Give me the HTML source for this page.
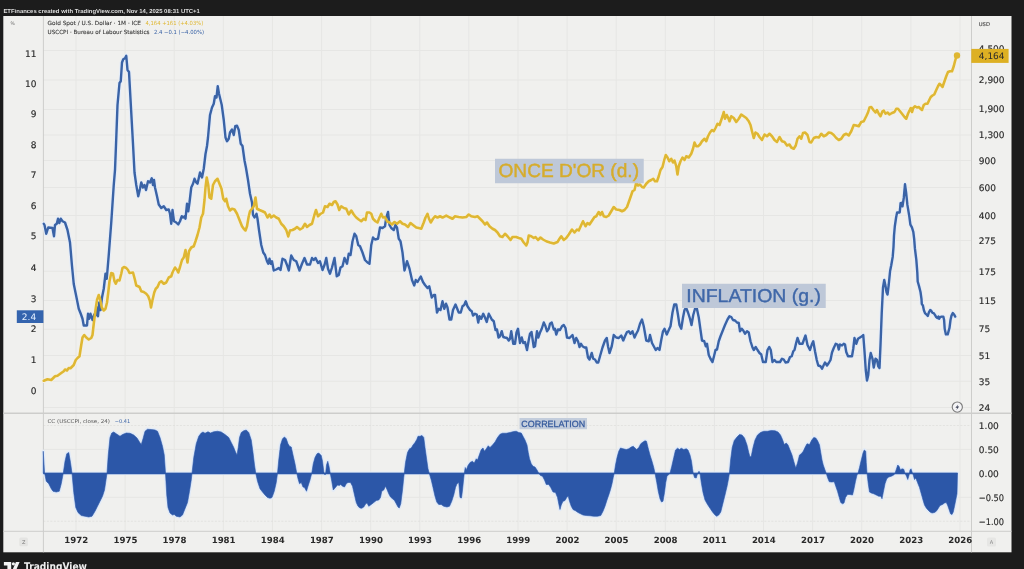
<!DOCTYPE html>
<html lang="fr"><head><meta charset="utf-8"><title>Or vs Inflation - TradingView</title>
<style>
html,body{margin:0;padding:0;background:#1c1c1c;width:1024px;height:569px;overflow:hidden}
svg{display:block;position:absolute;left:0;top:0}
text{font-family:"DejaVu Sans","Liberation Sans",sans-serif;opacity:.999;text-rendering:geometricPrecision}
.ax{font-size:9px;fill:#2a2a2a;stroke:#2a2a2a;stroke-width:.16px}
.yr{font-size:8.6px;font-weight:bold;fill:#2a2a2a}
.lib{font-family:"Liberation Sans",sans-serif}
</style></head><body>
<svg width="1024" height="569" viewBox="0 0 1024 569">
<rect x="0" y="0" width="1024" height="569" fill="#1c1c1c"/>
<defs><filter id="soft" filterUnits="userSpaceOnUse" x="0" y="0" width="1024" height="569" color-interpolation-filters="sRGB"><feGaussianBlur stdDeviation="0.5"/></filter></defs>
<g filter="url(#soft)">
<rect x="-5" y="-5" width="1034" height="579" fill="#1c1c1c"/>
<rect x="3.3" y="16" width="1008.2" height="536.3" fill="#f0f0ee"/>
<g stroke="#e6e6e4" stroke-width="1" fill="none">
<line x1="76.00" y1="16" x2="76.00" y2="531.3"/>
<line x1="125.11" y1="16" x2="125.11" y2="531.3"/>
<line x1="174.22" y1="16" x2="174.22" y2="531.3"/>
<line x1="223.33" y1="16" x2="223.33" y2="531.3"/>
<line x1="272.44" y1="16" x2="272.44" y2="531.3"/>
<line x1="321.55" y1="16" x2="321.55" y2="531.3"/>
<line x1="370.66" y1="16" x2="370.66" y2="531.3"/>
<line x1="419.77" y1="16" x2="419.77" y2="531.3"/>
<line x1="468.88" y1="16" x2="468.88" y2="531.3"/>
<line x1="517.99" y1="16" x2="517.99" y2="531.3"/>
<line x1="567.10" y1="16" x2="567.10" y2="531.3"/>
<line x1="616.21" y1="16" x2="616.21" y2="531.3"/>
<line x1="665.32" y1="16" x2="665.32" y2="531.3"/>
<line x1="714.43" y1="16" x2="714.43" y2="531.3"/>
<line x1="763.54" y1="16" x2="763.54" y2="531.3"/>
<line x1="812.65" y1="16" x2="812.65" y2="531.3"/>
<line x1="861.76" y1="16" x2="861.76" y2="531.3"/>
<line x1="910.87" y1="16" x2="910.87" y2="531.3"/>
<line x1="959.98" y1="16" x2="959.98" y2="531.3"/>
<line x1="43.4" y1="50.5" x2="971.5" y2="50.5"/>
<line x1="43.4" y1="80" x2="971.5" y2="80"/>
<line x1="43.4" y1="109.5" x2="971.5" y2="109.5"/>
<line x1="43.4" y1="135" x2="971.5" y2="135"/>
<line x1="43.4" y1="160.5" x2="971.5" y2="160.5"/>
<line x1="43.4" y1="187.5" x2="971.5" y2="187.5"/>
<line x1="43.4" y1="215.5" x2="971.5" y2="215.5"/>
<line x1="43.4" y1="240.5" x2="971.5" y2="240.5"/>
<line x1="43.4" y1="271.25" x2="971.5" y2="271.25"/>
<line x1="43.4" y1="300.5" x2="971.5" y2="300.5"/>
<line x1="43.4" y1="329.25" x2="971.5" y2="329.25"/>
<line x1="43.4" y1="355.5" x2="971.5" y2="355.5"/>
<line x1="43.4" y1="381.25" x2="971.5" y2="381.25"/>
<line x1="43.4" y1="407.5" x2="971.5" y2="407.5"/>
<line x1="43.4" y1="449.4" x2="971.5" y2="449.4"/>
<line x1="43.4" y1="497.3" x2="971.5" y2="497.3"/>
</g>
<g stroke="#dcdcda" stroke-width="0.7" stroke-dasharray="2 1.5" fill="none">
<line x1="43.4" y1="425.5" x2="971.5" y2="425.5"/>
<line x1="43.4" y1="521.25" x2="971.5" y2="521.25"/>
</g>
<g stroke="#cdcdcb" stroke-width="1" fill="none">
<line x1="43.4" y1="16" x2="43.4" y2="552.3"/>
<line x1="971.5" y1="16" x2="971.5" y2="552.3"/>
<line x1="3.3" y1="413.3" x2="1011.5" y2="413.3" stroke-width="1.6"/>
<line x1="3.3" y1="531.3" x2="1011.5" y2="531.3"/>
</g>
<polygon points="43.25,473.25 43.25,451.25 44.5,472.5 46.25,481.25 48.75,483.75 51.25,488.75 53,491.25 56.25,492 59.25,491.25 61.25,483.75 63.25,473.25 65,461.25 66.75,453.75 68.75,452.5 70.5,462.5 72,473.25 73.75,492.5 75.75,507.5 78,512.5 81.25,515.5 85,516.25 88.75,517 92,516.25 95,511.25 97.5,506.25 100,501.25 102.5,496.25 104.5,490 106,480 107,473.25 108.25,455 110,437.5 111.75,433 113.75,432 116.25,433.75 120,436.25 122.5,434.5 126.25,433 130,433.25 133.75,435 137,438 139.5,442 141.25,444.5 143,438.75 145,431.25 147.5,429.25 151.25,429.5 155,430 157.5,431.25 160,437.5 162.5,446.25 164.25,455 165.5,473.25 166.75,495 168,507.5 170,513 172.5,515 174.25,514.5 176.25,516.25 180,517 182.5,515 185,508.75 187.5,502.5 189.5,491.25 191.25,480 192,473.25 193.75,457.5 196.25,443.75 198.75,436.25 201.25,433 203,432 205,433.25 208,431.75 210.5,433 213.75,431.75 217.5,431.25 221.25,432 225,434.5 228.75,437.5 231.25,442.5 233.75,447.5 235.5,452 237,455 238.25,447.5 239.5,437.5 241.25,432.5 243.75,430.75 246.25,430 248.75,432.5 251.25,440 253,452.5 254.5,465 255.75,473.25 257.5,481.25 260,488.75 262.5,492 265,495 267.5,497.5 270,498.25 272,497.5 274.25,491.25 276.25,482.5 277.5,473.25 278.75,460 280.5,445 282.5,438.75 284.5,437 286.25,438.75 288,443.75 289.5,446.25 291.25,447 293,455 295,463.75 296.75,473.25 298,478.75 299.5,483.75 301.25,482.5 303,487 304.5,487.5 306.5,491.25 308,486.25 310,480 311.75,473.25 313.25,463.75 315,457.5 317,453.75 318.75,453 321.25,455.5 322.5,461.25 323.75,471.25 324.5,474.5 325.5,474.5 326.5,465 327.75,461.25 329,466.25 330.25,473.25 331.75,481.25 333.25,490 335,488 337.5,485 339.25,485.5 340.75,484.5 342.5,486.25 344.5,487 346.25,483.75 348,482.5 350.5,482.5 352.5,486.25 354.5,495 356.25,502.5 358,506.25 360,508 361.75,508.25 363.75,507 365.75,503.75 367,503 368.75,506.25 371.25,504.5 373.75,502.5 376.25,500.5 378.75,500 380.5,497.5 381.75,491.25 383.75,490 385.5,486.25 387,489.5 388.75,493.75 390.5,497 392.5,498.75 394.5,500.5 396.25,503.75 398,507 399.25,508 400.75,503.75 402.5,490 403.75,477.5 404.25,473.25 405.5,462.5 407.5,452.5 409.5,448.75 411.25,448 413,445 415,442.5 416.75,439.5 418,436.25 420,436.25 422,435.5 423.75,437.5 425,447.5 426.75,460 428,468.75 429.25,473.25 431.25,480 433,487.5 435,496.25 436.75,502 438.75,504.5 441.25,504.5 443.75,506.25 447,507 449.5,506.25 451.75,501.25 453.75,495 455.5,487.5 457,483.75 458.75,482.5 460,497.5 461.5,498 462.5,490 464.25,473.25 465.25,467.5 466.25,470 468,465.5 470,462.5 472.5,461.25 474.25,463 476.25,458.75 477.5,460 479.25,455 481.25,449.5 483,448 484.5,451.25 486.25,448.75 488.25,445.75 490,447.5 492.5,445 495,442 497.5,437.5 500,434.25 502.5,433.25 506.25,433.25 510,432.5 513.75,431.5 516.25,431.25 518.75,432.5 521.25,433 523,436.25 525,440 527,445 528.25,452.5 529.5,458.75 531.25,463.75 533,466.25 535,467 537,470 538.75,473.25 540.5,475.5 542.5,476.25 544.5,480 546.25,484.5 548.75,484.5 550.75,487.5 553,492 555.5,492.5 557.5,497.5 559,505 560,509.5 561.25,505 563,501.25 565,500.5 567,497 568.25,496.25 569.5,501.25 571.25,506.25 573,509.5 575.5,510.75 578,512.5 580.5,513.75 583,515 586.25,515.5 590,515.75 593.75,516.25 597.5,516.25 600.75,515.5 603,511.25 605,506.25 607,500 608.75,495 610.5,489.5 612,483.75 613.25,477.5 614.25,473.25 615.5,465 617,457.5 618.75,451.25 620.5,448 623,448.75 626.25,449.5 628.75,448.75 631.25,447 633.25,446.25 635,448 636.75,449.5 638.75,447.5 640.75,443.75 643,442 645,440.75 646.5,441.25 648,447.5 650,455 652,461.25 653.75,467.5 655,473.25 656.75,482.5 658.25,491.25 660,498.75 661.5,502 663,501.25 664.5,492.5 665.75,482.5 667,476.25 668.75,474.5 670,473.25 671.75,466.25 673.75,457.5 675.5,450 677.5,448.25 679.5,449.5 681.25,448.25 683.75,449.5 686.25,448.75 688,450 690,455 691.5,461.25 692.5,468.75 693.25,473.25 694.5,477.5 696.25,478 697.5,473.75 699,471.25 700,473.25 701.25,482.5 703,492.5 705,500 707.5,504.5 710,508.25 712.5,512 715,515 716.75,516.25 718.75,515 720.75,512 722.5,505 725,495 727.25,485.5 728.75,477.5 729.4,473.25 730.6,460 732.2,447.5 734.25,440.5 737,437 739.5,434.5 742,435 744.5,438 747,445 748.75,452.5 750,457 751.25,456.25 753,447.5 755,440 757.5,435 760.5,432.5 763.75,431.25 767.5,431.25 771.25,430.5 775,430.75 778,432 780.5,435 782.5,439.5 784.25,444.5 786.25,443 788,445 790,450 792,455 793.75,461.25 795.75,468 797.5,463 799.5,455 801.25,453.75 803.25,451.25 805,447.5 807,443.75 809.5,444.5 811.75,440 813.75,437.5 815.75,438 817.5,440.5 819.5,445 820.75,452.5 822,460 823.25,465 825,470 826.25,473.25 827.5,477.5 829.25,481.75 831.75,482 834.25,481.75 835.75,486.25 837.5,491.25 839.25,497.5 840.75,502.5 842.5,503.75 844,503 845.5,497.5 847.5,494.5 850,494.5 852.5,495 853.75,490 855.5,481.25 857,475 858,473.25 859.5,467.5 861.25,460 863,453 864.25,450 865.75,451.25 866.25,462.5 867,473.25 868.25,483.75 869.5,492 871.25,493 873.75,493.75 876.25,495 878.75,496.25 880.75,496.25 882,498.75 883.25,492.5 885,483.75 886.75,478.75 888.75,477 891.25,476.25 893.75,475 895,473.25 896.25,469.5 897.75,465 899,466.25 900.5,470 902,468.75 903.75,469.25 905,473.25 906.5,476.25 907.75,479.5 909,475.5 910,470 911,468.75 912.25,472.5 913.25,475 914.5,479.5 915.75,478 917.5,482.5 919.5,487.5 921.25,493.75 923,500 924.5,505 926.25,508 928,510 930,512 932,513 934.5,512.5 936.25,511.25 938,508.75 940,505.5 942.5,504.5 944.5,503 946.25,502.5 947.5,505 949.25,510 950.5,513.75 952,514.5 953.25,512 954.5,506.25 955.75,500 957,493.75 957.5,473.25" fill="none" stroke="#e2ebf8" stroke-width="3.6" stroke-linejoin="round"/>
<polygon points="43.25,473.25 43.25,451.25 44.5,472.5 46.25,481.25 48.75,483.75 51.25,488.75 53,491.25 56.25,492 59.25,491.25 61.25,483.75 63.25,473.25 65,461.25 66.75,453.75 68.75,452.5 70.5,462.5 72,473.25 73.75,492.5 75.75,507.5 78,512.5 81.25,515.5 85,516.25 88.75,517 92,516.25 95,511.25 97.5,506.25 100,501.25 102.5,496.25 104.5,490 106,480 107,473.25 108.25,455 110,437.5 111.75,433 113.75,432 116.25,433.75 120,436.25 122.5,434.5 126.25,433 130,433.25 133.75,435 137,438 139.5,442 141.25,444.5 143,438.75 145,431.25 147.5,429.25 151.25,429.5 155,430 157.5,431.25 160,437.5 162.5,446.25 164.25,455 165.5,473.25 166.75,495 168,507.5 170,513 172.5,515 174.25,514.5 176.25,516.25 180,517 182.5,515 185,508.75 187.5,502.5 189.5,491.25 191.25,480 192,473.25 193.75,457.5 196.25,443.75 198.75,436.25 201.25,433 203,432 205,433.25 208,431.75 210.5,433 213.75,431.75 217.5,431.25 221.25,432 225,434.5 228.75,437.5 231.25,442.5 233.75,447.5 235.5,452 237,455 238.25,447.5 239.5,437.5 241.25,432.5 243.75,430.75 246.25,430 248.75,432.5 251.25,440 253,452.5 254.5,465 255.75,473.25 257.5,481.25 260,488.75 262.5,492 265,495 267.5,497.5 270,498.25 272,497.5 274.25,491.25 276.25,482.5 277.5,473.25 278.75,460 280.5,445 282.5,438.75 284.5,437 286.25,438.75 288,443.75 289.5,446.25 291.25,447 293,455 295,463.75 296.75,473.25 298,478.75 299.5,483.75 301.25,482.5 303,487 304.5,487.5 306.5,491.25 308,486.25 310,480 311.75,473.25 313.25,463.75 315,457.5 317,453.75 318.75,453 321.25,455.5 322.5,461.25 323.75,471.25 324.5,474.5 325.5,474.5 326.5,465 327.75,461.25 329,466.25 330.25,473.25 331.75,481.25 333.25,490 335,488 337.5,485 339.25,485.5 340.75,484.5 342.5,486.25 344.5,487 346.25,483.75 348,482.5 350.5,482.5 352.5,486.25 354.5,495 356.25,502.5 358,506.25 360,508 361.75,508.25 363.75,507 365.75,503.75 367,503 368.75,506.25 371.25,504.5 373.75,502.5 376.25,500.5 378.75,500 380.5,497.5 381.75,491.25 383.75,490 385.5,486.25 387,489.5 388.75,493.75 390.5,497 392.5,498.75 394.5,500.5 396.25,503.75 398,507 399.25,508 400.75,503.75 402.5,490 403.75,477.5 404.25,473.25 405.5,462.5 407.5,452.5 409.5,448.75 411.25,448 413,445 415,442.5 416.75,439.5 418,436.25 420,436.25 422,435.5 423.75,437.5 425,447.5 426.75,460 428,468.75 429.25,473.25 431.25,480 433,487.5 435,496.25 436.75,502 438.75,504.5 441.25,504.5 443.75,506.25 447,507 449.5,506.25 451.75,501.25 453.75,495 455.5,487.5 457,483.75 458.75,482.5 460,497.5 461.5,498 462.5,490 464.25,473.25 465.25,467.5 466.25,470 468,465.5 470,462.5 472.5,461.25 474.25,463 476.25,458.75 477.5,460 479.25,455 481.25,449.5 483,448 484.5,451.25 486.25,448.75 488.25,445.75 490,447.5 492.5,445 495,442 497.5,437.5 500,434.25 502.5,433.25 506.25,433.25 510,432.5 513.75,431.5 516.25,431.25 518.75,432.5 521.25,433 523,436.25 525,440 527,445 528.25,452.5 529.5,458.75 531.25,463.75 533,466.25 535,467 537,470 538.75,473.25 540.5,475.5 542.5,476.25 544.5,480 546.25,484.5 548.75,484.5 550.75,487.5 553,492 555.5,492.5 557.5,497.5 559,505 560,509.5 561.25,505 563,501.25 565,500.5 567,497 568.25,496.25 569.5,501.25 571.25,506.25 573,509.5 575.5,510.75 578,512.5 580.5,513.75 583,515 586.25,515.5 590,515.75 593.75,516.25 597.5,516.25 600.75,515.5 603,511.25 605,506.25 607,500 608.75,495 610.5,489.5 612,483.75 613.25,477.5 614.25,473.25 615.5,465 617,457.5 618.75,451.25 620.5,448 623,448.75 626.25,449.5 628.75,448.75 631.25,447 633.25,446.25 635,448 636.75,449.5 638.75,447.5 640.75,443.75 643,442 645,440.75 646.5,441.25 648,447.5 650,455 652,461.25 653.75,467.5 655,473.25 656.75,482.5 658.25,491.25 660,498.75 661.5,502 663,501.25 664.5,492.5 665.75,482.5 667,476.25 668.75,474.5 670,473.25 671.75,466.25 673.75,457.5 675.5,450 677.5,448.25 679.5,449.5 681.25,448.25 683.75,449.5 686.25,448.75 688,450 690,455 691.5,461.25 692.5,468.75 693.25,473.25 694.5,477.5 696.25,478 697.5,473.75 699,471.25 700,473.25 701.25,482.5 703,492.5 705,500 707.5,504.5 710,508.25 712.5,512 715,515 716.75,516.25 718.75,515 720.75,512 722.5,505 725,495 727.25,485.5 728.75,477.5 729.4,473.25 730.6,460 732.2,447.5 734.25,440.5 737,437 739.5,434.5 742,435 744.5,438 747,445 748.75,452.5 750,457 751.25,456.25 753,447.5 755,440 757.5,435 760.5,432.5 763.75,431.25 767.5,431.25 771.25,430.5 775,430.75 778,432 780.5,435 782.5,439.5 784.25,444.5 786.25,443 788,445 790,450 792,455 793.75,461.25 795.75,468 797.5,463 799.5,455 801.25,453.75 803.25,451.25 805,447.5 807,443.75 809.5,444.5 811.75,440 813.75,437.5 815.75,438 817.5,440.5 819.5,445 820.75,452.5 822,460 823.25,465 825,470 826.25,473.25 827.5,477.5 829.25,481.75 831.75,482 834.25,481.75 835.75,486.25 837.5,491.25 839.25,497.5 840.75,502.5 842.5,503.75 844,503 845.5,497.5 847.5,494.5 850,494.5 852.5,495 853.75,490 855.5,481.25 857,475 858,473.25 859.5,467.5 861.25,460 863,453 864.25,450 865.75,451.25 866.25,462.5 867,473.25 868.25,483.75 869.5,492 871.25,493 873.75,493.75 876.25,495 878.75,496.25 880.75,496.25 882,498.75 883.25,492.5 885,483.75 886.75,478.75 888.75,477 891.25,476.25 893.75,475 895,473.25 896.25,469.5 897.75,465 899,466.25 900.5,470 902,468.75 903.75,469.25 905,473.25 906.5,476.25 907.75,479.5 909,475.5 910,470 911,468.75 912.25,472.5 913.25,475 914.5,479.5 915.75,478 917.5,482.5 919.5,487.5 921.25,493.75 923,500 924.5,505 926.25,508 928,510 930,512 932,513 934.5,512.5 936.25,511.25 938,508.75 940,505.5 942.5,504.5 944.5,503 946.25,502.5 947.5,505 949.25,510 950.5,513.75 952,514.5 953.25,512 954.5,506.25 955.75,500 957,493.75 957.5,473.25" fill="#2c57a8" stroke="#2c57a8" stroke-width="0.6" stroke-linejoin="round"/>
<line x1="43.25" y1="473.6" x2="957.5" y2="473.6" stroke="#2c57a8" stroke-width="1.5"/>
<polyline points="43.75,223.75 44.5,225 46.25,233.75 48.25,227.5 52.5,228 54,236.25 55,225 56.75,223.75 58,218.75 59.25,223 60.75,218.75 62.5,221.25 65,222.5 67.5,230 70,242.5 72,266 73.75,284 76.25,296.25 78.75,308.75 80.75,313.75 82.5,318.75 83.75,325.5 87,325.5 88,313.75 89.25,318.75 90.5,313.75 92.5,320 94.25,314.5 95.5,315.5 97,307.5 98,316.25 99.25,302.5 100.5,310 102,297.5 103.75,288.75 105.5,273.75 106.75,278.75 108.75,255 111.25,222.5 113.75,185 115,170 116,145 116.75,125 117.5,105 119.5,83 120.75,81.25 122,62.5 123.25,59.25 125,58.25 126.25,55.75 127.5,70 129,72 131.25,112.5 133,144 134.5,172.5 136.25,185 138.25,196.25 140,188.75 141.25,182.5 143,187.5 144.5,185 146,190 148,181.25 150,182.5 151.75,178.25 153,185 154,180 155,187.5 157,196.25 158.75,204.5 161.25,208 163.75,206.25 166.25,210 168.75,209.5 170,213.75 171.25,223.75 172.5,210 174,221.25 176.25,222.5 178.25,224.5 180,221.25 181.75,216.25 183.25,217.5 184.5,216.25 185.5,218.75 187,203.75 188.25,211.25 189.5,202.5 191.25,187.5 193,183.75 194.5,178.75 196.25,182.5 197.5,183.75 200,172.5 202,177.5 203.75,168.75 205.5,154 207,146 208,137.5 210,115 212,107.5 213.75,103.75 215,96.25 216.5,97.5 217.75,86.25 219,93.75 221.75,105 223.75,120 225.5,137.5 227,141.25 228.75,138.75 230,132.5 232,129.5 233.75,135 235.25,126.25 237,125.75 238.75,130 240.75,143.75 242.5,146 244.5,160.5 246,168 248,180 250,193.75 252,202.5 253,215 254.5,217.5 256.5,213.75 257.5,218.75 259,230 261.25,245 263.25,252.5 265,255 267,261.25 268.25,263.75 269.5,258.75 270.75,263.75 272,261.25 273.75,270.5 276.25,269.5 278.75,268 280.5,270 282.5,258.75 285,260 287,265 288.75,270.5 291.25,255.5 293.75,260 296.25,261.25 298,266.25 299.5,270.5 302,263.75 304.5,258 307,264.5 310,264.5 312,258 313.75,260 315.5,258 318,263 320,261.25 322.5,270 324.5,265 326.25,258 328,268.75 330,273.75 332,267.5 334.5,258 336.75,276.25 338.75,275 340.5,267.5 342.5,266.25 344.5,258 347,263.75 348.75,253.75 350.5,255 352.5,241.25 354.5,233.75 356.25,236.25 358.25,245 360,246.25 362.5,252.5 365,260 367.5,262.5 369.5,263.75 371.25,245 373,237.5 375,239.5 378,238.75 380,227.5 382.5,228 385,226.25 386.25,217.5 388,212 389.5,225 391.25,228 393.75,230 395.5,225 397,227.5 398.75,238.75 400.5,241.25 402.5,252.5 404.5,270.5 407,261.25 409.5,268.75 412,280 414.25,285.5 415.75,280 417.5,282 420.75,276.5 423,282 425,285 427.5,288 429.25,286.25 431.75,297.5 433.75,295 435,295 437,312.5 438.75,308.75 440.5,310 442.5,301.25 444.25,308.75 446,303.75 447.5,307.5 449.5,319.5 451.25,319.5 453,310 455.5,304.5 458.75,312.5 460.75,312.5 462.5,306.25 464.25,305 465.75,301.25 467.5,306.25 470,310 471.75,311.25 473,315.5 475,313.75 476.75,314.5 478.25,322.5 479.5,316.25 481.25,318.75 483.25,313.75 485,317.5 486.75,322 488.75,313.75 490.5,317 491.75,319.5 493.75,321.25 495.5,330 497,329.5 498.5,337.5 500,336.25 501.75,331.25 503.25,337 505,337.5 507,338 508.75,340.5 510,338.75 511.25,331.25 513.25,343.75 515,343.75 516.5,332.5 518,328.75 520,343 521.75,337.5 523.25,343 525,342 527,350 528.75,340 530,333.75 531.5,332 533.75,347 535,346.25 537,331.25 538.25,337.5 540,332.5 541.75,328.75 543.75,322.5 545.5,326.25 547,331.25 548.75,328.75 550,323.75 551.75,322.5 553.75,329.5 555,328.75 556.25,334.5 558,329.5 560,330 562,326.25 563.75,325 565.5,328 567,337.5 569.5,338 572.5,335 574.5,343 576.25,338 578,341.25 579.5,347 581,343.75 582.5,346.25 584.5,347.5 586.25,347.5 588,357.5 589.5,359.5 591.75,353 593.25,358.75 595,359.5 596.75,362.5 598.25,362.5 600,356.25 602.5,347.5 605,340.5 606.75,338 608,346.25 609.5,353 611.75,346.25 613.75,335 616.25,337.5 618.75,338 621.25,335.5 623.25,340.5 625,336.25 627,332 628.75,331.25 630.5,333.75 632.5,331.25 634.5,337.5 636.25,333.75 638,330.5 640,323.75 642,319.5 643.75,326.25 646.25,340.5 648.75,341.25 650,335 652,343 653.75,346.25 655.75,350 657.5,348 659.5,350 661.25,340 663,331.25 664.5,328.75 666.75,334.5 668.75,330 670.5,326.25 672.5,312.5 674.25,304.5 676.25,304.5 678,315 679.5,325 681.25,328.75 683,317.5 684.5,310 686,307.5 688,312.5 690,318.75 691.5,325 693.25,315 695,308.75 696.75,308 698.75,317.5 700.5,330 702,340.5 704.25,341.25 705.75,346.25 707,343.75 708.75,355 710.5,358.75 712.5,362 714,356.25 715.5,350 717,349.5 718.75,341.25 720.5,336.25 722.5,331.25 725,325 727.5,319.5 729.5,316.25 731.25,317 733,320 735,320.5 737,322.5 738.75,323 740,331.25 741.75,328.75 743.25,330.5 745,333.75 747,331.25 748.75,332.5 750.5,341.25 752.5,347.5 753.75,350 755.75,347 757.5,350 759.5,353 761.25,354.5 763,362 765.75,362 767.5,350 769.25,347 770.75,350 772.5,362 774.5,360 776.25,362 780,362 782,358.75 783.75,359.5 785.5,362.5 788,362 790,357 791.75,356.25 793.25,351.25 794.5,350 796.25,342.5 797.5,338 799.5,343.75 802.5,343.75 804.25,338.75 805.5,335.5 807.5,345 810,350 811.75,344.5 813.25,341.25 815,351.25 816.75,360 818.25,365.5 820.5,366.25 822,368.75 823.75,365 825,362.5 827,365.5 828.75,363 830.5,360 832,352.5 833.75,348 835.75,343.75 837.5,344.5 838.75,349.5 840,344.5 842,345.5 843.75,343.75 845,344.5 846.25,352 848,356.25 852,356.25 853.25,348.75 854.5,338 856.25,343.75 858,338.75 860,337.5 862,336.25 863.25,335 864.5,351.25 865.75,370 867,380.5 868.25,375 869.5,360 870.75,353 872.5,358.75 873.75,367.5 875.5,358.75 877,360 878.25,366.25 879.5,368 880.5,345 881.75,312.5 883,287.5 884.25,280 885.5,286 886.5,292 887.5,294.6 888.7,285 890.1,270.9 891.25,265.3 892.7,256.9 893.5,247 894,235.5 894.8,226.5 896.1,217.5 897.1,212.5 899.7,212.5 900.6,203.1 901.6,202.8 902.5,206.4 903.8,197.7 905,184.3 906.1,192.3 907.4,204.9 909.2,215.7 910.4,224.7 911.9,227.4 913.3,231.9 914.2,239.1 914.9,248.4 916.3,259.7 917.3,272.3 917.7,281.5 919.1,286.4 920.5,292 921.5,299.1 921.8,304 922.9,305.4 923.9,310.3 925,313.1 926.4,314.5 927.8,315.9 928.9,312.4 930.2,310 931.3,311 932.5,312.8 933.7,313.1 935.1,315.2 936.25,317.1 937.4,318 938.4,316.6 939.1,318.75 940.2,317.1 941.6,316.6 943.3,316.6 944.1,320 944.7,328.8 945.9,334.4 947.7,334.4 949.5,327.9 950.5,320 951.4,315.9 952.8,313.1 954.1,314.5 955.2,316.6" fill="none" stroke="#e4ecf8" stroke-width="4.6" stroke-linejoin="round" stroke-linecap="round"/>
<polyline points="43.75,380.75 47.5,379.25 51.25,380 55,376.25 57.5,375.75 61.25,373 63.75,371.25 65,369.5 67,370.5 68.75,368 70.5,368.25 73.75,365 75.75,360 77.5,358 79.5,356.25 81.25,345 82.5,337.5 84.25,335 86.25,337.5 88.75,339.5 91.25,338 92.5,335 93.75,323.75 95.5,310 97,300 98.75,295 100,298.75 101.75,307.5 103.75,310.5 105.5,308.75 107,302.5 108.25,292.5 109.5,281.25 111.25,273 113,273.75 114.5,281.25 115.75,283.75 117.5,280 119.5,280.5 121.25,273.75 122.5,268 124,267 126.25,268 128,270 129.5,273 133,272.5 135,280 136.25,285.5 138,286.25 139.5,287 141.25,291.25 143.75,292 146.25,293.75 148.25,296.25 150,301.25 151,307.5 152.5,300 154.25,292.5 155.75,288.75 157.5,287 159.5,282.5 161.25,281.25 163.75,283.75 166.25,282.5 168.75,277.5 171.25,276.25 172.5,272.5 175,267.5 177,270 178.25,272.5 180,267 182,260 183.75,257.5 185.5,250 187.5,262.5 189,251.25 191.25,247.5 193.75,246.25 195.5,241.25 197.5,235 199.5,227.5 201.25,217.5 203,213.75 204.5,200 205.5,187.5 206.75,177.5 208.25,185 209.5,197.5 211.25,198.75 213,185 215,181.25 217.5,178.75 219.5,183.75 221.5,188.75 223.25,198.75 225,201.25 226.25,198.75 228,206.25 230,210.5 232,208.75 234.5,209.5 237,213.75 239.5,220 242,226.25 243.75,228.75 245.5,230.5 247,226.25 248.75,216.25 250,211.25 252,208.75 253.75,206.25 255.5,197.5 257,208.75 259.5,210 262.5,211.25 265,212.5 267.5,217.5 269.5,214.5 271.25,217.5 273.75,215.5 276.25,217.5 278.75,218.75 281.25,223.75 283.75,226.25 286.25,230 288.25,236.5 290,230.5 292.5,230 295,228.75 297,227 300,229.5 302.5,228 305,223.75 307,227 309.5,225 312,223.75 314.25,215.5 316,210 318,216.25 320.75,213.75 323,212.5 325,206.25 327.5,207 329.5,203.75 332,205 333.75,202 335.5,201.25 337.5,204.5 339.25,210 341.25,206.25 343.75,208 346.25,208.75 348.75,214.5 351.25,210.5 353.75,214.5 356.25,217.5 358.75,219.5 361.25,221.25 363.75,218.75 365.5,220 367,212.5 369.5,212.5 371.25,213.75 373,218.75 375.5,221.25 377.5,222.5 379.5,217.5 381.25,213.75 383,217.5 385,217 387,221.25 389.5,222.5 392,224.5 394.5,222 397,223.75 400,221.25 402.5,223.75 405,224.5 408,227 410.5,223 413,225 416.25,227.5 418.75,228 421.25,228.75 423.75,222.5 425.5,217.5 427.5,213.75 429,218.75 430.75,222.5 433,218.75 435,216.25 437.5,217.5 440,216.25 442.5,217.5 446.25,215.5 450,217.5 452.5,218.75 455,216.25 458.75,217 462.5,217.5 466.25,217 468.75,214.5 471.25,216.25 475,217 477.5,216.25 480,218.75 482.5,221.25 485,224.5 487,222.5 489.5,226.25 492.5,228.75 495,230 497.5,232.5 500,236.25 502.5,237 505,233.75 507.5,236.25 510.5,240 512.5,237 516.25,237 518.75,238 521.25,238.75 523.75,242.5 526.25,245.5 527.5,242.5 528.75,235.5 531.25,236.25 533.75,238 535.5,237 538,240 540.5,237.5 543,239.5 546.25,241.25 550,242.5 553.75,243.5 557.5,242 559.5,238.75 561.25,236.25 563.75,240 566.25,238 568.75,234.5 572,229.5 574.5,232.5 577,229.5 578.75,230.5 581.25,225 583,221.25 585.5,226.25 587.5,223 589.5,224.5 592.5,220 594.5,217 596.25,216.25 598.75,212 600.5,215 602,212 603.75,216.25 606.25,217 608.75,215.5 611.25,211.25 613.75,207 616.25,209.5 619.5,210 622,211.25 624.5,210 627,207 629.5,200 631.25,195 632.5,191.25 634.5,190 636.25,182.5 638,185.5 640,184.5 642,187 643.75,187.5 646.25,183.75 648.75,181.25 651.25,180 653.25,178.75 655,181.25 657,181.25 658.75,176.25 660.5,170 662.5,167 664.25,160 665.75,155 667.5,157.5 669.25,161.25 671.25,158.75 673,162.5 674.5,160.5 676.25,166.25 677.5,174.5 678.75,166.25 680.5,161.25 682.5,157.5 684.5,160 686.25,156.25 688.75,157.5 691.25,153.75 693,148.75 694.5,142.5 696.25,146.25 698,146.25 700,144.5 702,141.25 704.5,138.75 706.25,141.25 708,136.25 710,132.5 712,130 713.75,131.25 715.5,128 717.5,123.75 719.5,125 721.25,120 722.5,116.25 723.75,112 725,118.75 726.75,115 728.25,118 729.5,121.25 731.25,116.25 733.75,118 736.25,122 738.75,118.75 741.25,114.5 743.75,116.25 746.25,118 748.75,121.25 750.5,125 752,131.25 753.75,138 755.5,132.5 757.5,133.75 759.5,137 762,140 764.5,134.5 767,136.25 769.5,133.75 772,136.25 774.5,140 777,142 779.5,137 782,141.25 784.5,142 787,145.5 789.5,144.5 791.25,147.5 793.75,148.75 795.75,145.5 797.5,138.75 799.5,136.25 801.25,138.75 803,133 805,132.5 807.5,135 809.5,142 811.25,142.5 813.75,138 816.25,137 818.75,137.5 821.25,133.75 823.75,136.25 826.25,135 828.75,132.5 831.25,133 833.75,135 836.25,138 838.75,140 841.25,138.75 843.75,135 846.25,133.75 848.75,135.5 851.25,131.25 853.75,125 856.25,125.5 858.75,126.25 861.25,122 863.75,121.25 866.25,116.25 868,112.5 869.5,107.5 871.25,107 873.75,110.5 875.5,112.5 877,110 878.75,113.75 880.5,116.25 882.5,111.25 883.75,110.5 885.5,113.75 887.5,112.5 889.5,114.5 892,113 894.5,112 896.25,108.75 898,108.75 900,111.25 902,113.75 904.5,117 906.25,118.75 908,113.75 909.5,110.5 910.75,108 912,112 913.25,108 915,106.25 917,107.5 918.75,107 920.5,108.75 922,110 923.75,105 925.5,103.75 927.5,103.75 929.25,100 930.75,97 932.5,95.5 934.25,94.5 936.25,90 938,86.25 939.5,83.75 941.25,85.5 942.5,87 944.5,81.25 946.25,76.25 948,72 950,71.25 952,71.25 953.75,66.25 955,61.25 956.25,57 957,55.75" fill="none" stroke="#f4f0e2" stroke-width="4.4" stroke-linejoin="round" stroke-linecap="round"/>
<polyline points="43.75,223.75 44.5,225 46.25,233.75 48.25,227.5 52.5,228 54,236.25 55,225 56.75,223.75 58,218.75 59.25,223 60.75,218.75 62.5,221.25 65,222.5 67.5,230 70,242.5 72,266 73.75,284 76.25,296.25 78.75,308.75 80.75,313.75 82.5,318.75 83.75,325.5 87,325.5 88,313.75 89.25,318.75 90.5,313.75 92.5,320 94.25,314.5 95.5,315.5 97,307.5 98,316.25 99.25,302.5 100.5,310 102,297.5 103.75,288.75 105.5,273.75 106.75,278.75 108.75,255 111.25,222.5 113.75,185 115,170 116,145 116.75,125 117.5,105 119.5,83 120.75,81.25 122,62.5 123.25,59.25 125,58.25 126.25,55.75 127.5,70 129,72 131.25,112.5 133,144 134.5,172.5 136.25,185 138.25,196.25 140,188.75 141.25,182.5 143,187.5 144.5,185 146,190 148,181.25 150,182.5 151.75,178.25 153,185 154,180 155,187.5 157,196.25 158.75,204.5 161.25,208 163.75,206.25 166.25,210 168.75,209.5 170,213.75 171.25,223.75 172.5,210 174,221.25 176.25,222.5 178.25,224.5 180,221.25 181.75,216.25 183.25,217.5 184.5,216.25 185.5,218.75 187,203.75 188.25,211.25 189.5,202.5 191.25,187.5 193,183.75 194.5,178.75 196.25,182.5 197.5,183.75 200,172.5 202,177.5 203.75,168.75 205.5,154 207,146 208,137.5 210,115 212,107.5 213.75,103.75 215,96.25 216.5,97.5 217.75,86.25 219,93.75 221.75,105 223.75,120 225.5,137.5 227,141.25 228.75,138.75 230,132.5 232,129.5 233.75,135 235.25,126.25 237,125.75 238.75,130 240.75,143.75 242.5,146 244.5,160.5 246,168 248,180 250,193.75 252,202.5 253,215 254.5,217.5 256.5,213.75 257.5,218.75 259,230 261.25,245 263.25,252.5 265,255 267,261.25 268.25,263.75 269.5,258.75 270.75,263.75 272,261.25 273.75,270.5 276.25,269.5 278.75,268 280.5,270 282.5,258.75 285,260 287,265 288.75,270.5 291.25,255.5 293.75,260 296.25,261.25 298,266.25 299.5,270.5 302,263.75 304.5,258 307,264.5 310,264.5 312,258 313.75,260 315.5,258 318,263 320,261.25 322.5,270 324.5,265 326.25,258 328,268.75 330,273.75 332,267.5 334.5,258 336.75,276.25 338.75,275 340.5,267.5 342.5,266.25 344.5,258 347,263.75 348.75,253.75 350.5,255 352.5,241.25 354.5,233.75 356.25,236.25 358.25,245 360,246.25 362.5,252.5 365,260 367.5,262.5 369.5,263.75 371.25,245 373,237.5 375,239.5 378,238.75 380,227.5 382.5,228 385,226.25 386.25,217.5 388,212 389.5,225 391.25,228 393.75,230 395.5,225 397,227.5 398.75,238.75 400.5,241.25 402.5,252.5 404.5,270.5 407,261.25 409.5,268.75 412,280 414.25,285.5 415.75,280 417.5,282 420.75,276.5 423,282 425,285 427.5,288 429.25,286.25 431.75,297.5 433.75,295 435,295 437,312.5 438.75,308.75 440.5,310 442.5,301.25 444.25,308.75 446,303.75 447.5,307.5 449.5,319.5 451.25,319.5 453,310 455.5,304.5 458.75,312.5 460.75,312.5 462.5,306.25 464.25,305 465.75,301.25 467.5,306.25 470,310 471.75,311.25 473,315.5 475,313.75 476.75,314.5 478.25,322.5 479.5,316.25 481.25,318.75 483.25,313.75 485,317.5 486.75,322 488.75,313.75 490.5,317 491.75,319.5 493.75,321.25 495.5,330 497,329.5 498.5,337.5 500,336.25 501.75,331.25 503.25,337 505,337.5 507,338 508.75,340.5 510,338.75 511.25,331.25 513.25,343.75 515,343.75 516.5,332.5 518,328.75 520,343 521.75,337.5 523.25,343 525,342 527,350 528.75,340 530,333.75 531.5,332 533.75,347 535,346.25 537,331.25 538.25,337.5 540,332.5 541.75,328.75 543.75,322.5 545.5,326.25 547,331.25 548.75,328.75 550,323.75 551.75,322.5 553.75,329.5 555,328.75 556.25,334.5 558,329.5 560,330 562,326.25 563.75,325 565.5,328 567,337.5 569.5,338 572.5,335 574.5,343 576.25,338 578,341.25 579.5,347 581,343.75 582.5,346.25 584.5,347.5 586.25,347.5 588,357.5 589.5,359.5 591.75,353 593.25,358.75 595,359.5 596.75,362.5 598.25,362.5 600,356.25 602.5,347.5 605,340.5 606.75,338 608,346.25 609.5,353 611.75,346.25 613.75,335 616.25,337.5 618.75,338 621.25,335.5 623.25,340.5 625,336.25 627,332 628.75,331.25 630.5,333.75 632.5,331.25 634.5,337.5 636.25,333.75 638,330.5 640,323.75 642,319.5 643.75,326.25 646.25,340.5 648.75,341.25 650,335 652,343 653.75,346.25 655.75,350 657.5,348 659.5,350 661.25,340 663,331.25 664.5,328.75 666.75,334.5 668.75,330 670.5,326.25 672.5,312.5 674.25,304.5 676.25,304.5 678,315 679.5,325 681.25,328.75 683,317.5 684.5,310 686,307.5 688,312.5 690,318.75 691.5,325 693.25,315 695,308.75 696.75,308 698.75,317.5 700.5,330 702,340.5 704.25,341.25 705.75,346.25 707,343.75 708.75,355 710.5,358.75 712.5,362 714,356.25 715.5,350 717,349.5 718.75,341.25 720.5,336.25 722.5,331.25 725,325 727.5,319.5 729.5,316.25 731.25,317 733,320 735,320.5 737,322.5 738.75,323 740,331.25 741.75,328.75 743.25,330.5 745,333.75 747,331.25 748.75,332.5 750.5,341.25 752.5,347.5 753.75,350 755.75,347 757.5,350 759.5,353 761.25,354.5 763,362 765.75,362 767.5,350 769.25,347 770.75,350 772.5,362 774.5,360 776.25,362 780,362 782,358.75 783.75,359.5 785.5,362.5 788,362 790,357 791.75,356.25 793.25,351.25 794.5,350 796.25,342.5 797.5,338 799.5,343.75 802.5,343.75 804.25,338.75 805.5,335.5 807.5,345 810,350 811.75,344.5 813.25,341.25 815,351.25 816.75,360 818.25,365.5 820.5,366.25 822,368.75 823.75,365 825,362.5 827,365.5 828.75,363 830.5,360 832,352.5 833.75,348 835.75,343.75 837.5,344.5 838.75,349.5 840,344.5 842,345.5 843.75,343.75 845,344.5 846.25,352 848,356.25 852,356.25 853.25,348.75 854.5,338 856.25,343.75 858,338.75 860,337.5 862,336.25 863.25,335 864.5,351.25 865.75,370 867,380.5 868.25,375 869.5,360 870.75,353 872.5,358.75 873.75,367.5 875.5,358.75 877,360 878.25,366.25 879.5,368 880.5,345 881.75,312.5 883,287.5 884.25,280 885.5,286 886.5,292 887.5,294.6 888.7,285 890.1,270.9 891.25,265.3 892.7,256.9 893.5,247 894,235.5 894.8,226.5 896.1,217.5 897.1,212.5 899.7,212.5 900.6,203.1 901.6,202.8 902.5,206.4 903.8,197.7 905,184.3 906.1,192.3 907.4,204.9 909.2,215.7 910.4,224.7 911.9,227.4 913.3,231.9 914.2,239.1 914.9,248.4 916.3,259.7 917.3,272.3 917.7,281.5 919.1,286.4 920.5,292 921.5,299.1 921.8,304 922.9,305.4 923.9,310.3 925,313.1 926.4,314.5 927.8,315.9 928.9,312.4 930.2,310 931.3,311 932.5,312.8 933.7,313.1 935.1,315.2 936.25,317.1 937.4,318 938.4,316.6 939.1,318.75 940.2,317.1 941.6,316.6 943.3,316.6 944.1,320 944.7,328.8 945.9,334.4 947.7,334.4 949.5,327.9 950.5,320 951.4,315.9 952.8,313.1 954.1,314.5 955.2,316.6" fill="none" stroke="#3a63a6" stroke-width="2.4" stroke-linejoin="round" stroke-linecap="round"/>
<polyline points="43.75,380.75 47.5,379.25 51.25,380 55,376.25 57.5,375.75 61.25,373 63.75,371.25 65,369.5 67,370.5 68.75,368 70.5,368.25 73.75,365 75.75,360 77.5,358 79.5,356.25 81.25,345 82.5,337.5 84.25,335 86.25,337.5 88.75,339.5 91.25,338 92.5,335 93.75,323.75 95.5,310 97,300 98.75,295 100,298.75 101.75,307.5 103.75,310.5 105.5,308.75 107,302.5 108.25,292.5 109.5,281.25 111.25,273 113,273.75 114.5,281.25 115.75,283.75 117.5,280 119.5,280.5 121.25,273.75 122.5,268 124,267 126.25,268 128,270 129.5,273 133,272.5 135,280 136.25,285.5 138,286.25 139.5,287 141.25,291.25 143.75,292 146.25,293.75 148.25,296.25 150,301.25 151,307.5 152.5,300 154.25,292.5 155.75,288.75 157.5,287 159.5,282.5 161.25,281.25 163.75,283.75 166.25,282.5 168.75,277.5 171.25,276.25 172.5,272.5 175,267.5 177,270 178.25,272.5 180,267 182,260 183.75,257.5 185.5,250 187.5,262.5 189,251.25 191.25,247.5 193.75,246.25 195.5,241.25 197.5,235 199.5,227.5 201.25,217.5 203,213.75 204.5,200 205.5,187.5 206.75,177.5 208.25,185 209.5,197.5 211.25,198.75 213,185 215,181.25 217.5,178.75 219.5,183.75 221.5,188.75 223.25,198.75 225,201.25 226.25,198.75 228,206.25 230,210.5 232,208.75 234.5,209.5 237,213.75 239.5,220 242,226.25 243.75,228.75 245.5,230.5 247,226.25 248.75,216.25 250,211.25 252,208.75 253.75,206.25 255.5,197.5 257,208.75 259.5,210 262.5,211.25 265,212.5 267.5,217.5 269.5,214.5 271.25,217.5 273.75,215.5 276.25,217.5 278.75,218.75 281.25,223.75 283.75,226.25 286.25,230 288.25,236.5 290,230.5 292.5,230 295,228.75 297,227 300,229.5 302.5,228 305,223.75 307,227 309.5,225 312,223.75 314.25,215.5 316,210 318,216.25 320.75,213.75 323,212.5 325,206.25 327.5,207 329.5,203.75 332,205 333.75,202 335.5,201.25 337.5,204.5 339.25,210 341.25,206.25 343.75,208 346.25,208.75 348.75,214.5 351.25,210.5 353.75,214.5 356.25,217.5 358.75,219.5 361.25,221.25 363.75,218.75 365.5,220 367,212.5 369.5,212.5 371.25,213.75 373,218.75 375.5,221.25 377.5,222.5 379.5,217.5 381.25,213.75 383,217.5 385,217 387,221.25 389.5,222.5 392,224.5 394.5,222 397,223.75 400,221.25 402.5,223.75 405,224.5 408,227 410.5,223 413,225 416.25,227.5 418.75,228 421.25,228.75 423.75,222.5 425.5,217.5 427.5,213.75 429,218.75 430.75,222.5 433,218.75 435,216.25 437.5,217.5 440,216.25 442.5,217.5 446.25,215.5 450,217.5 452.5,218.75 455,216.25 458.75,217 462.5,217.5 466.25,217 468.75,214.5 471.25,216.25 475,217 477.5,216.25 480,218.75 482.5,221.25 485,224.5 487,222.5 489.5,226.25 492.5,228.75 495,230 497.5,232.5 500,236.25 502.5,237 505,233.75 507.5,236.25 510.5,240 512.5,237 516.25,237 518.75,238 521.25,238.75 523.75,242.5 526.25,245.5 527.5,242.5 528.75,235.5 531.25,236.25 533.75,238 535.5,237 538,240 540.5,237.5 543,239.5 546.25,241.25 550,242.5 553.75,243.5 557.5,242 559.5,238.75 561.25,236.25 563.75,240 566.25,238 568.75,234.5 572,229.5 574.5,232.5 577,229.5 578.75,230.5 581.25,225 583,221.25 585.5,226.25 587.5,223 589.5,224.5 592.5,220 594.5,217 596.25,216.25 598.75,212 600.5,215 602,212 603.75,216.25 606.25,217 608.75,215.5 611.25,211.25 613.75,207 616.25,209.5 619.5,210 622,211.25 624.5,210 627,207 629.5,200 631.25,195 632.5,191.25 634.5,190 636.25,182.5 638,185.5 640,184.5 642,187 643.75,187.5 646.25,183.75 648.75,181.25 651.25,180 653.25,178.75 655,181.25 657,181.25 658.75,176.25 660.5,170 662.5,167 664.25,160 665.75,155 667.5,157.5 669.25,161.25 671.25,158.75 673,162.5 674.5,160.5 676.25,166.25 677.5,174.5 678.75,166.25 680.5,161.25 682.5,157.5 684.5,160 686.25,156.25 688.75,157.5 691.25,153.75 693,148.75 694.5,142.5 696.25,146.25 698,146.25 700,144.5 702,141.25 704.5,138.75 706.25,141.25 708,136.25 710,132.5 712,130 713.75,131.25 715.5,128 717.5,123.75 719.5,125 721.25,120 722.5,116.25 723.75,112 725,118.75 726.75,115 728.25,118 729.5,121.25 731.25,116.25 733.75,118 736.25,122 738.75,118.75 741.25,114.5 743.75,116.25 746.25,118 748.75,121.25 750.5,125 752,131.25 753.75,138 755.5,132.5 757.5,133.75 759.5,137 762,140 764.5,134.5 767,136.25 769.5,133.75 772,136.25 774.5,140 777,142 779.5,137 782,141.25 784.5,142 787,145.5 789.5,144.5 791.25,147.5 793.75,148.75 795.75,145.5 797.5,138.75 799.5,136.25 801.25,138.75 803,133 805,132.5 807.5,135 809.5,142 811.25,142.5 813.75,138 816.25,137 818.75,137.5 821.25,133.75 823.75,136.25 826.25,135 828.75,132.5 831.25,133 833.75,135 836.25,138 838.75,140 841.25,138.75 843.75,135 846.25,133.75 848.75,135.5 851.25,131.25 853.75,125 856.25,125.5 858.75,126.25 861.25,122 863.75,121.25 866.25,116.25 868,112.5 869.5,107.5 871.25,107 873.75,110.5 875.5,112.5 877,110 878.75,113.75 880.5,116.25 882.5,111.25 883.75,110.5 885.5,113.75 887.5,112.5 889.5,114.5 892,113 894.5,112 896.25,108.75 898,108.75 900,111.25 902,113.75 904.5,117 906.25,118.75 908,113.75 909.5,110.5 910.75,108 912,112 913.25,108 915,106.25 917,107.5 918.75,107 920.5,108.75 922,110 923.75,105 925.5,103.75 927.5,103.75 929.25,100 930.75,97 932.5,95.5 934.25,94.5 936.25,90 938,86.25 939.5,83.75 941.25,85.5 942.5,87 944.5,81.25 946.25,76.25 948,72 950,71.25 952,71.25 953.75,66.25 955,61.25 956.25,57 957,55.75" fill="none" stroke="#dfb732" stroke-width="2.55" stroke-linejoin="round" stroke-linecap="round"/>
<circle cx="957" cy="55.5" r="3.2" fill="#dfb732"/>
<text class="lib" x="3.4" y="12.6" font-size="5.7" font-weight="bold" fill="#dedede" textLength="196.5" lengthAdjust="spacingAndGlyphs">ETFinances created with TradingView.com, Nov 14, 2025 08:31 UTC+1</text>
<text x="10.4" y="25.4" font-size="4.6" fill="#666">%</text>
<text x="47.6" y="25.2" font-size="5.6" fill="#3e3e3e" stroke="#3e3e3e" stroke-width="0.12" textLength="93.4" lengthAdjust="spacingAndGlyphs">Gold Spot / U.S. Dollar · 1M · ICE</text>
<text x="145.5" y="25.2" font-size="5.6" fill="#dfb732" textLength="57.8" lengthAdjust="spacingAndGlyphs">4,164  +161 (+4.03%)</text>
<text x="47.6" y="33.5" font-size="5.6" fill="#3e3e3e" stroke="#3e3e3e" stroke-width="0.12" textLength="101.8" lengthAdjust="spacingAndGlyphs">USCCPI · Bureau of Labour Statistics</text>
<text x="153.9" y="33.5" font-size="5.6" fill="#3a63a6" textLength="50.1" lengthAdjust="spacingAndGlyphs">2.4  −0.1 (−4.00%)</text>
<text x="978.8" y="25.8" font-size="5.2" fill="#4a4a4a" stroke="#4a4a4a" stroke-width="0.15">USD</text>
<text class="ax" x="36.4" y="393.80" text-anchor="end">0</text>
<text class="ax" x="36.4" y="363.10" text-anchor="end">1</text>
<text class="ax" x="36.4" y="332.30" text-anchor="end">2</text>
<text class="ax" x="36.4" y="301.60" text-anchor="end">3</text>
<text class="ax" x="36.4" y="270.90" text-anchor="end">4</text>
<text class="ax" x="36.4" y="239.30" text-anchor="end">5</text>
<text class="ax" x="36.4" y="208.90" text-anchor="end">6</text>
<text class="ax" x="36.4" y="178.30" text-anchor="end">7</text>
<text class="ax" x="36.4" y="147.70" text-anchor="end">8</text>
<text class="ax" x="36.4" y="117.10" text-anchor="end">9</text>
<text class="ax" x="36.4" y="86.60" text-anchor="end">10</text>
<text class="ax" x="36.4" y="56.55" text-anchor="end">11</text>
<rect x="16.8" y="310.3" width="26.6" height="12.7" fill="#3464ae"/>
<text x="29" y="320" font-size="9" fill="#e4f0ff" text-anchor="middle">2.4</text>
<text class="ax" x="978.8" y="52.10">4,500</text>
<text class="ax" x="978.8" y="82.80">2,900</text>
<text class="ax" x="978.8" y="112.05">1,900</text>
<text class="ax" x="978.8" y="137.80">1,300</text>
<text class="ax" x="978.8" y="163.50">900</text>
<text class="ax" x="978.8" y="191.20">600</text>
<text class="ax" x="978.8" y="219.00">400</text>
<text class="ax" x="978.8" y="244.20">275</text>
<text class="ax" x="978.8" y="274.60">175</text>
<text class="ax" x="978.8" y="303.80">115</text>
<text class="ax" x="978.8" y="332.40">75</text>
<text class="ax" x="978.8" y="359.00">51</text>
<text class="ax" x="978.8" y="384.80">35</text>
<text class="ax" x="978.8" y="410.70">24</text>
<rect x="971.3" y="48.9" width="37.3" height="14" fill="#ddb023"/>
<text x="978.8" y="59.4" font-size="9" fill="#2a2a2a">4,164</text>
<text class="ax" x="978.8" y="428.60">1.00</text>
<text class="ax" x="978.8" y="452.80">0.50</text>
<text class="ax" x="978.8" y="476.80">0.00</text>
<text class="ax" x="978.8" y="500.50" textLength="25.3" lengthAdjust="spacingAndGlyphs">−0.50</text>
<text class="ax" x="978.8" y="524.70" textLength="25.3" lengthAdjust="spacingAndGlyphs">−1.00</text>
<text class="yr" x="76.30" y="543.4" text-anchor="middle">1972</text>
<text class="yr" x="125.41" y="543.4" text-anchor="middle">1975</text>
<text class="yr" x="174.52" y="543.4" text-anchor="middle">1978</text>
<text class="yr" x="223.63" y="543.4" text-anchor="middle">1981</text>
<text class="yr" x="272.74" y="543.4" text-anchor="middle">1984</text>
<text class="yr" x="321.85" y="543.4" text-anchor="middle">1987</text>
<text class="yr" x="370.96" y="543.4" text-anchor="middle">1990</text>
<text class="yr" x="420.07" y="543.4" text-anchor="middle">1993</text>
<text class="yr" x="469.18" y="543.4" text-anchor="middle">1996</text>
<text class="yr" x="518.29" y="543.4" text-anchor="middle">1999</text>
<text class="yr" x="567.40" y="543.4" text-anchor="middle">2002</text>
<text class="yr" x="616.51" y="543.4" text-anchor="middle">2005</text>
<text class="yr" x="665.62" y="543.4" text-anchor="middle">2008</text>
<text class="yr" x="714.73" y="543.4" text-anchor="middle">2011</text>
<text class="yr" x="763.84" y="543.4" text-anchor="middle">2014</text>
<text class="yr" x="812.95" y="543.4" text-anchor="middle">2017</text>
<text class="yr" x="862.06" y="543.4" text-anchor="middle">2020</text>
<text class="yr" x="911.17" y="543.4" text-anchor="middle">2023</text>
<text class="yr" x="960.28" y="543.4" text-anchor="middle">2026</text>
<rect x="19.3" y="537.6" width="8.6" height="8.6" rx="1.5" fill="#e4e4e2"/>
<text x="23.6" y="544" font-size="5" fill="#777" text-anchor="middle">Z</text>
<rect x="987" y="537.6" width="9" height="9" rx="1.5" fill="#e6e6e4"/>
<text x="991.5" y="544.2" font-size="5" fill="#888" text-anchor="middle">A</text>
<circle cx="957.3" cy="407.1" r="5.1" fill="#f4f4f6" stroke="#7c7c7c" stroke-width="1.1"/>
<path d="M958.2 404.4 L955.4 407.7 L957.2 407.7 L956.4 409.9 L959.2 406.6 L957.4 406.6 Z" fill="#3a3f55"/>
<text x="47.5" y="422.6" font-size="5.2" fill="#555" textLength="62.5" lengthAdjust="spacingAndGlyphs">CC (USCCPI, close, 24)</text>
<text x="114.8" y="422.6" font-size="5.2" fill="#3a63a6" textLength="15.4" lengthAdjust="spacingAndGlyphs">−0.41</text>
<rect x="495" y="158.75" width="148.75" height="24.5" fill="#bec8d8"/>
<text class="lib" x="498.5" y="177.4" font-size="19" fill="#d6ac2c" stroke="#d6ac2c" stroke-width="0.45" textLength="140.5" lengthAdjust="spacingAndGlyphs">ONCE D'OR (d.)</text>
<rect x="682" y="283.75" width="143.75" height="24.25" fill="#bec8d8"/>
<text class="lib" x="686.25" y="302.3" font-size="18.6" fill="#3f67a8" stroke="#3f67a8" stroke-width="0.4" textLength="134.75" lengthAdjust="spacingAndGlyphs">INFLATION (g.)</text>
<rect x="519.5" y="418" width="67.5" height="11.25" fill="#c3cddc"/>
<text class="lib" x="521.3" y="427" font-size="9" fill="#34599c" stroke="#34599c" stroke-width="0.25" textLength="63.8" lengthAdjust="spacingAndGlyphs">CORRELATION</text>
<g fill="#f2f2f2">
<path d="M3.9 562 H11.2 V569 H7.4 V565.4 H3.9 Z"/>
<circle cx="13.4" cy="563.8" r="1.6"/>
<path d="M15.9 562 H19.6 L16.6 569 H12.9 Z"/>
</g>
<text x="24" y="569.6" font-size="10.5" font-weight="bold" fill="#efefef" textLength="63" lengthAdjust="spacingAndGlyphs">TradingView</text>
</g>
</svg>
</body></html>
